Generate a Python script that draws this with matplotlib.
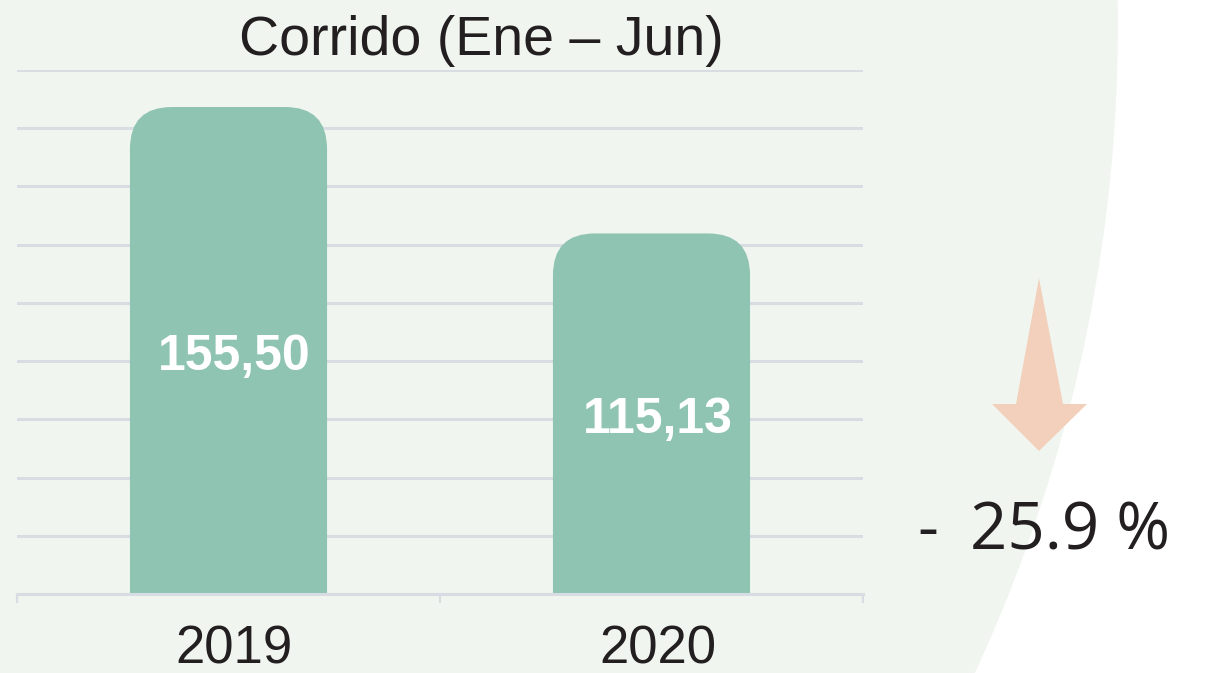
# Import modules
import numpy as np
import matplotlib
matplotlib.use("Agg")
import matplotlib.pyplot as plt
from matplotlib.patches import Circle, Polygon, FancyBboxPatch

# Data
years = ["2019", "2020"]
values = [155.50, 115.13]
value_labels = ["155,50", "115,13"]
title = "Corrido (Ene \u2013 Jun)"
change_sign = "-"
change_text = "25.9 %"

# Colors
BG_GREEN = "#f0f6ef"
BAR = "#8fc4b3"
GRID = "#d8dce3"
TEXT = "#231f20"
ARROW = "#f3d0bb"

W, H = 1206, 673
fig = plt.figure(figsize=(W / 100, H / 100), dpi=100)
fig.patch.set_facecolor("white")

# background layer in pixel coords (big green circle + arrow)
bg = fig.add_axes([0, 0, 1, 1], zorder=0)
bg.set_xlim(0, W)
bg.set_ylim(H, 0)
bg.axis("off")
bg.add_patch(Circle((-425, 24), 1543, color=BG_GREEN, lw=0))
bg.add_patch(Polygon([(1039, 278), (1063, 404), (1087, 404), (1039, 451),
                      (992, 404), (1016, 404)], closed=True, color=ARROW, lw=0))

# main chart axes
ax = fig.add_axes([17 / W, (H - 594) / H, (863 - 17) / W, (594 - 70) / H], zorder=1)
ax.set_facecolor("none")
ymax = values[0] * 524 / 487
ax.set_ylim(0, ymax)
ax.set_xlim(-0.5, len(years) - 0.5)
ax.set_yticks(np.linspace(0, ymax, 10))
ax.set_yticklabels([])
ax.tick_params(axis="y", length=0)
ax.grid(axis="y", color=GRID, lw=2.2)
ax.set_axisbelow(True)
for s in ["top", "right", "left"]:
    ax.spines[s].set_visible(False)
ax.spines["bottom"].set_color(GRID)
ax.spines["bottom"].set_linewidth(2.2)
ax.set_xticks([])
ax.set_xticks(np.arange(len(years) + 1) - 0.5, minor=True)
ax.tick_params(axis="x", which="minor", length=6.5, width=1.6, color=GRID)

# rounded-top bars (bottom corners hidden below the axis)
bar_w = 0.466
radius_px = 42
px_per_x = (863 - 17) / len(years)
px_per_y = 524 / ymax
r_x = radius_px / px_per_x
r_y = radius_px / px_per_y
for i, v in enumerate(values):
    p = FancyBboxPatch((i - bar_w / 2, -r_y), bar_w, v + r_y,
                       boxstyle=f"round,pad=0,rounding_size={r_x}",
                       mutation_aspect=r_y / r_x, fc=BAR, ec="none", zorder=2)
    ax.add_patch(p)
    ax.annotate(value_labels[i], (i, v / 2), xytext=(6, -6), textcoords="offset pixels",
                ha="center", va="center", color="white", fontsize=36,
                fontweight="bold", family="Liberation Sans", zorder=3)

# category labels
for i, y in enumerate(years):
    ax.annotate(y, (i, 0), xycoords=("data", "axes fraction"), xytext=(6, -69),
                textcoords="offset pixels", ha="center", va="baseline",
                fontsize=38, color=TEXT, family="Liberation Sans",
                annotation_clip=False)

fig.text(481 / W, (H - 55) / H, title, ha="center", va="baseline",
         fontsize=40, color=TEXT, family="Liberation Sans")

fig.text(928 / W, (H - 549) / H, change_sign, ha="center", va="baseline",
         fontsize=47, color=TEXT, family="Open Sans")
fig.text(970 / W, (H - 549) / H, change_text, ha="left", va="baseline",
         fontsize=47, color=TEXT, family="Open Sans")

fig.savefig("out.png", dpi=100, facecolor=fig.get_facecolor())
